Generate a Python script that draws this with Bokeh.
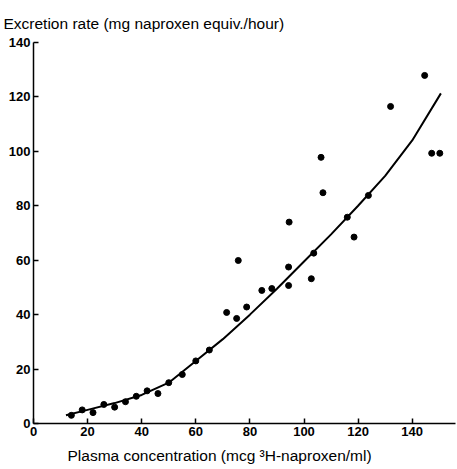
from bokeh.plotting import figure
from bokeh.models import Range1d, FixedTicker, Title
from bokeh.embed import file_html
from bokeh.resources import INLINE

# Observed excretion rate vs plasma concentration
conc = [14, 18, 22, 26, 30, 34, 38, 42, 46, 50, 55, 60, 65,
        71.4, 75.1, 75.7, 78.8, 84.4, 88.1, 94.3, 94.3, 94.5,
        102.7, 103.6, 106.3, 107.0, 116.0, 118.5, 123.8,
        132.0, 144.6, 147.2, 150.2]
rate = [3, 5, 4, 7, 6, 8, 10, 12, 11, 15, 18, 23, 27,
        40.8, 38.6, 59.9, 42.8, 48.9, 49.6, 50.7, 57.5, 74.0,
        53.2, 62.6, 97.8, 84.8, 75.8, 68.5, 83.8,
        116.5, 127.9, 99.3, 99.3]

# Fitted curve
fit_x = [12, 20, 30, 40, 50, 60, 70, 80, 90, 100, 110, 120, 130, 140, 150.6]
fit_y = [3, 5, 7.5, 10.5, 15, 23, 31, 40, 49.5, 59.5, 69.5, 80, 91, 104, 121.3]

x_ticks = [0, 20, 40, 60, 80, 100, 120, 140]
y_ticks = [0, 20, 40, 60, 80, 100, 120, 140]

FONT = "Liberation Sans"

p = figure(width=457, height=469, output_backend="svg", toolbar_location=None,
           x_range=Range1d(0, 156), y_range=Range1d(0, 140),
           min_border_left=33, min_border_right=2, min_border_top=42,
           min_border_bottom=13)

p.title = Title(text="Excretion rate (mg naproxen equiv./hour)",
                text_font=FONT, text_font_size="15.5px", text_font_style="normal",
                text_color="black", offset=-30, standoff=22)

p.grid.visible = False
p.outline_line_color = None
p.background_fill_color = "white"
p.border_fill_color = "white"

for ax in (p.xaxis[0], p.yaxis[0]):
    ax.axis_line_color = "black"
    ax.axis_line_width = 1.5
    ax.major_tick_line_color = "black"
    ax.major_tick_line_width = 1.5
    ax.major_tick_in = 5
    ax.major_tick_out = 0
    ax.minor_tick_line_color = None
    ax.major_label_text_font = FONT
    ax.major_label_text_font_size = "13px"
    ax.major_label_text_font_style = "bold"
    ax.major_label_text_color = "black"
    ax.major_label_standoff = 3

p.xaxis.ticker = FixedTicker(ticks=x_ticks)
p.yaxis.ticker = FixedTicker(ticks=y_ticks)

# x-axis caption, set under the 0-140 span
p.add_layout(Title(text="Plasma concentration (mcg \u00b3H-naproxen/ml)",
                   text_font=FONT, text_font_size="15.5px", text_font_style="normal",
                   text_color="black", align="left", offset=34, standoff=12),
             "below")

p.line(fit_x, fit_y, line_color="black", line_width=2)
p.scatter(conc, rate, size=6, fill_color="black", line_color="black")

open("out.html", "w").write(file_html(p, INLINE))
